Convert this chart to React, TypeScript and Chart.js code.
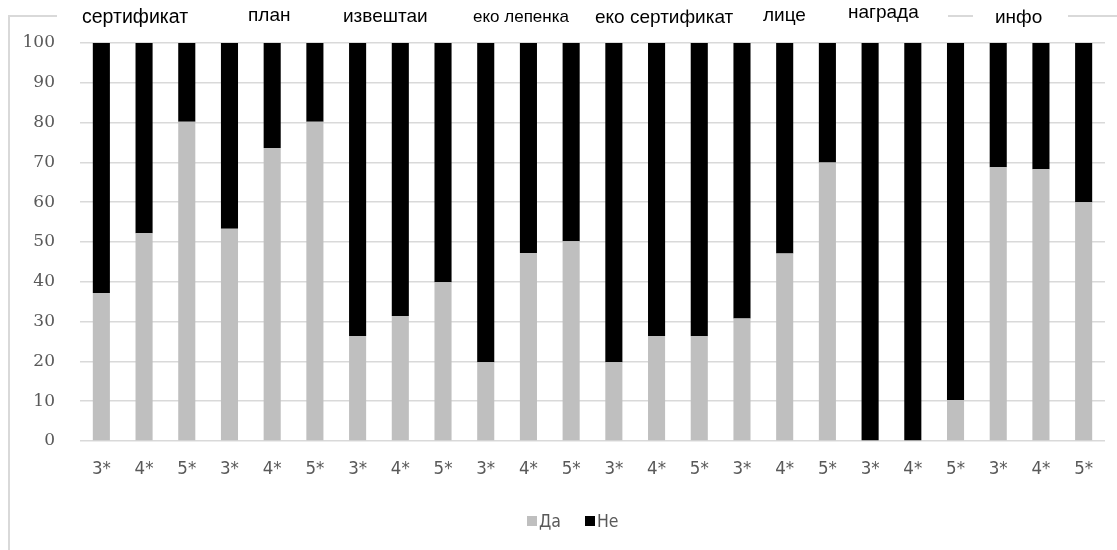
import React, { useEffect, useRef } from "react";
import { Chart, registerables } from "chart.js";

Chart.register(...registerables);

// ---- data ----
const categories = [
  "3*", "4*", "5*",
  "3*", "4*", "5*",
  "3*", "4*", "5*",
  "3*", "4*", "5*",
  "3*", "4*", "5*",
  "3*", "4*", "5*",
  "3*", "4*", "5*",
  "3*", "4*", "5*",
];

const groupLabels = [
  "сертификат",
  "план",
  "извештаи",
  "еко лепенка",
  "еко сертификат",
  "лице",
  "награда",
  "инфо",
];

const daValues = [
  37.2, 52.2, 80.2,
  53.3, 73.6, 80.2,
  26.4, 31.4, 39.9,
  19.8, 47.2, 50.2,
  19.8, 26.3, 26.3,
  30.8, 47.1, 70.0,
  0, 0, 10.3,
  68.8, 68.3, 60.0,
];

const neValues = [
  62.8, 47.8, 19.8,
  46.7, 26.4, 19.8,
  73.6, 68.6, 60.1,
  80.2, 52.8, 49.8,
  80.2, 73.7, 73.7,
  69.2, 52.9, 30.0,
  100, 100, 89.7,
  31.2, 31.7, 40.0,
];

const seriesNames = ["Да", "Не"];
const yMin = 0;
const yMax = 100;
const yStep = 10;

// ---- layout / style (not data) ----
const labelLayout = [
  { left: 82, cy: 18, size: 19.5 },
  { left: 248, cy: 16, size: 19 },
  { left: 343, cy: 17, size: 19 },
  { left: 473, cy: 18, size: 17 },
  { left: 595, cy: 18, size: 19 },
  { left: 763, cy: 16, size: 19 },
  { left: 848, cy: 13, size: 19 },
  { left: 995, cy: 18, size: 19 },
];

const topBorderSegments = [
  [8, 57],
  [948, 973],
  [1068, 1117],
];

const GRAY = "#bfbfbf";
const BLACK = "#000000";
const TEXT = "#595959";
const GRID = "#d9d9d9";
const NARROW = "'Liberation Sans Narrow', 'DejaVu Sans Condensed', 'DejaVu Sans', sans-serif";
const SERIF = "'DejaVu Serif', serif";
const seriesColors = [GRAY, BLACK];

export default function App() {
  const canvasRef = useRef<HTMLCanvasElement | null>(null);

  useEffect(() => {
    if (!canvasRef.current) return;
    const chart = new Chart(canvasRef.current, {
      type: "bar",
      data: {
        labels: categories,
        datasets: [
          {
            label: seriesNames[0],
            data: daValues,
            backgroundColor: seriesColors[0],
            borderWidth: 0,
            barPercentage: 0.4,
            categoryPercentage: 1,
          },
          {
            label: seriesNames[1],
            data: neValues,
            backgroundColor: seriesColors[1],
            borderWidth: 0,
            barPercentage: 0.4,
            categoryPercentage: 1,
          },
        ],
      },
      options: {
        animation: false,
        responsive: true,
        maintainAspectRatio: false,
        layout: { padding: { top: 43, right: 12, left: 0, bottom: 0 } },
        plugins: {
          legend: { display: false },
          tooltip: { enabled: false },
          title: { display: false },
        },
        scales: {
          x: {
            stacked: true,
            grid: { display: false, drawTicks: false },
            border: { display: false },
            ticks: {
              padding: 17,
              color: TEXT,
              font: { family: NARROW, size: 18.5 },
              maxRotation: 0,
              autoSkip: false,
            },
            afterFit: (s: any) => {
              s.height = 109;
            },
          },
          y: {
            stacked: true,
            min: yMin,
            max: yMax,
            ticks: {
              stepSize: yStep,
              padding: 25,
              color: TEXT,
              font: { family: SERIF, size: 17 },
            },
            grid: { color: GRID, lineWidth: 1.5, drawTicks: false },
            border: { display: false },
            afterFit: (s: any) => {
              s.width = 80;
            },
          },
        },
      },
    });
    return () => chart.destroy();
  }, []);

  return (
    <div
      style={{
        position: "absolute",
        left: 0,
        top: 0,
        width: 1117,
        height: 550,
        overflow: "hidden",
        background: "#fff",
      }}
    >
      <canvas ref={canvasRef} />
      <div
        style={{
          position: "absolute",
          left: 8,
          top: 15,
          width: 2,
          height: 535,
          background: GRID,
        }}
      />
      {topBorderSegments.map(([a, b], i) => (
        <div
          key={"seg" + i}
          style={{
            position: "absolute",
            left: a,
            top: 15,
            width: b - a,
            height: 2,
            background: GRID,
          }}
        />
      ))}
      {groupLabels.map((t, i) => (
        <div
          key={"lbl" + i}
          style={{
            position: "absolute",
            left: labelLayout[i].left,
            top: labelLayout[i].cy - labelLayout[i].size * 0.58,
            fontFamily: "'Liberation Sans', Arial, sans-serif",
            fontSize: labelLayout[i].size,
            lineHeight: 1,
            color: "#000",
            whiteSpace: "nowrap",
          }}
        >
          {t}
        </div>
      ))}
      <div
        style={{
          position: "absolute",
          left: 527,
          top: 510,
          height: 22,
          display: "flex",
          alignItems: "center",
          fontFamily: NARROW,
          fontSize: 17.5,
          color: TEXT,
          whiteSpace: "nowrap",
        }}
      >
        {seriesNames.map((n, i) => (
          <div
            key={"leg" + i}
            style={{ display: "flex", alignItems: "center", marginRight: i === 0 ? 24 : 0 }}
          >
            <span
              style={{
                display: "inline-block",
                width: 10,
                height: 10,
                background: seriesColors[i],
                marginRight: 2,
              }}
            />
            <span>{n}</span>
          </div>
        ))}
      </div>
    </div>
  );
}
